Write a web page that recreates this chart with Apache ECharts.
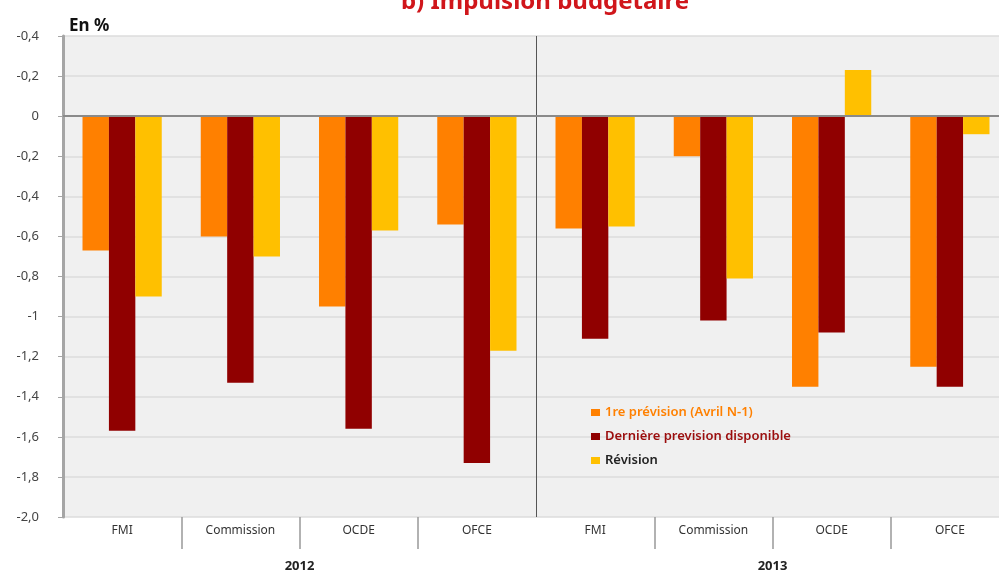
<!DOCTYPE html>
<html>
<head>
<meta charset="utf-8">
<script src="https://cdn.jsdelivr.net/npm/echarts@6/dist/echarts.min.js"></script>
<style>
  html, body { margin: 0; padding: 0; background: #fff; overflow: hidden; }
  #chart { width: 1009px; height: 574px; }
</style>
</head>
<body>
<div id="chart"></div>
<script>
const categories = ['FMI', 'Commission', 'OCDE', 'OFCE', 'FMI', 'Commission', 'OCDE', 'OFCE'];
const years = ['2012', '2013'];

const premierePrevision = [-0.67, -0.60, -0.95, -0.54, -0.56, -0.20, -1.35, -1.25];
const dernierePrevision = [-1.57, -1.33, -1.56, -1.73, -1.11, -1.02, -1.08, -1.35];
const revision = [-0.90, -0.70, -0.57, -1.17, -0.55, -0.81, 0.23, -0.09];

// the source labels its axis this way (from -2,0 up to the top)
const yTickLabels = ['-2,0', '-1,8', '-1,6', '-1,4', '-1,2', '-1', '-0,8', '-0,6', '-0,4', '-0,2', '0', '-0,2', '-0,4'];

// plot runs a bit past the right edge of the window, as in the source
const chart = echarts.init(document.getElementById('chart'));
const font = 'Noto Sans';

const option = {
    backgroundColor: '#fff',
    textStyle: { fontFamily: font },
    title: [{
        text: 'b) Impulsion budgétaire',
        left: 540,
        textAlign: 'center',
        top: -15,
        textStyle: { color: '#d0161b', fontSize: 24, fontWeight: 'bold', fontFamily: font }
    }, {
        text: 'En %',
        left: 64,
        top: 13,
        textStyle: { color: '#111', fontSize: 17, fontWeight: 'bold', fontFamily: font }
    }],
    legend: {
        orient: 'vertical',
        left: 586,
        top: 401,
        itemWidth: 9,
        itemHeight: 7,
        itemGap: 11,
        icon: 'rect',
        textStyle: { fontSize: 13, fontWeight: 600, fontFamily: font },
        data: [
            { name: '1re prévision (Avril N-1)', textStyle: { color: '#ff8000' } },
            { name: 'Dernière prevision disponible', textStyle: { color: '#9b0d0d' } },
            { name: 'Révision', textStyle: { color: '#222' } }
        ]
    },
    grid: {
        left: 63,
        top: 36,
        right: 0,
        bottom: 57,
        show: true,
        backgroundColor: '#f0f0f0',
        borderWidth: 0
    },
    xAxis: [{
        type: 'category',
        data: categories,
        axisLine: { show: false, onZero: false },
        axisTick: {
            show: true,
            length: 32,
            interval: function (i) { return i !== 0 && i !== 4; },
            lineStyle: { color: '#999', width: 1.5 }
        },
        axisLabel: { color: '#333', fontSize: 12, margin: 8, interval: 0 },
        splitLine: { show: false }
    }, {
        type: 'category',
        data: years,
        position: 'bottom',
        offset: 35,
        axisLine: { show: false, onZero: false },
        axisTick: { show: false },
        axisLabel: { color: '#222', fontSize: 13, fontWeight: 'bold', margin: 8 },
        splitLine: { show: true, interval: 0, lineStyle: { color: '#555', width: 1 } }
    }],
    yAxis: {
        type: 'value',
        min: -2,
        max: 0.4,
        interval: 0.2,
        axisLine: { show: true, lineStyle: { color: '#a5a5a5', width: 3 } },
        axisTick: { show: true, length: 5, lineStyle: { color: '#a5a5a5' } },
        axisLabel: {
            color: '#444',
            fontSize: 13,
            margin: 24,
            formatter: function (v) { return yTickLabels[Math.round((v + 2) / 0.2)]; }
        },
        splitLine: { show: true, lineStyle: { color: '#dcdcdc', width: 1.5 } }
    },
    series: [{
        name: '1re prévision (Avril N-1)',
        type: 'bar',
        data: premierePrevision,
        itemStyle: { color: '#ff8000' },
        barGap: '0%',
        barCategoryGap: '33%',
        markLine: {
            silent: true,
            symbol: ['none', 'none'],
            label: { show: false },
            lineStyle: { color: '#8a8a8a', width: 2, type: 'solid' },
            data: [{ yAxis: 0 }]
        }
    }, {
        name: 'Dernière prevision disponible',
        type: 'bar',
        data: dernierePrevision,
        itemStyle: { color: '#900000' }
    }, {
        name: 'Révision',
        type: 'bar',
        data: revision,
        itemStyle: { color: '#ffc000' }
    }]
};

chart.setOption(option);
</script>
</body>
</html>
